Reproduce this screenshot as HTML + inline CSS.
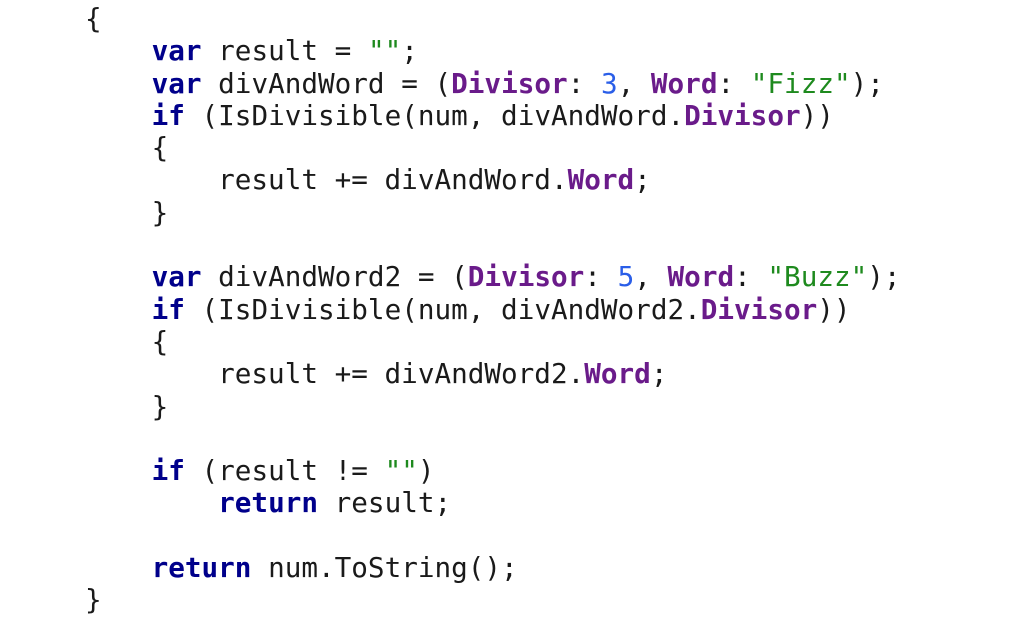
<!DOCTYPE html>
<html><head><meta charset="utf-8"><style>
html,body{margin:0;padding:0;background:#fff;width:1024px;height:640px;overflow:hidden}
pre{position:absolute;left:85px;top:3px;margin:0;font-family:"DejaVu Sans Mono","Liberation Mono",monospace;font-size:27.65px;line-height:32.3px;color:#1a1a1a}
.k{color:#00008b;font-weight:bold}
.p{color:#6a1b8a;font-weight:bold}
.n{color:#2a5ee8}
.s{color:#1e8a1e}
</style></head><body>
<pre>{
    <span class="k">var</span> result = <span class="s">""</span>;
    <span class="k">var</span> divAndWord = (<span class="p">Divisor</span>: <span class="n">3</span>, <span class="p">Word</span>: <span class="s">"Fizz"</span>);
    <span class="k">if</span> (IsDivisible(num, divAndWord.<span class="p">Divisor</span>))
    {
        result += divAndWord.<span class="p">Word</span>;
    }

    <span class="k">var</span> divAndWord2 = (<span class="p">Divisor</span>: <span class="n">5</span>, <span class="p">Word</span>: <span class="s">"Buzz"</span>);
    <span class="k">if</span> (IsDivisible(num, divAndWord2.<span class="p">Divisor</span>))
    {
        result += divAndWord2.<span class="p">Word</span>;
    }

    <span class="k">if</span> (result != <span class="s">""</span>)
        <span class="k">return</span> result;

    <span class="k">return</span> num.ToString();
}</pre>
</body></html>
